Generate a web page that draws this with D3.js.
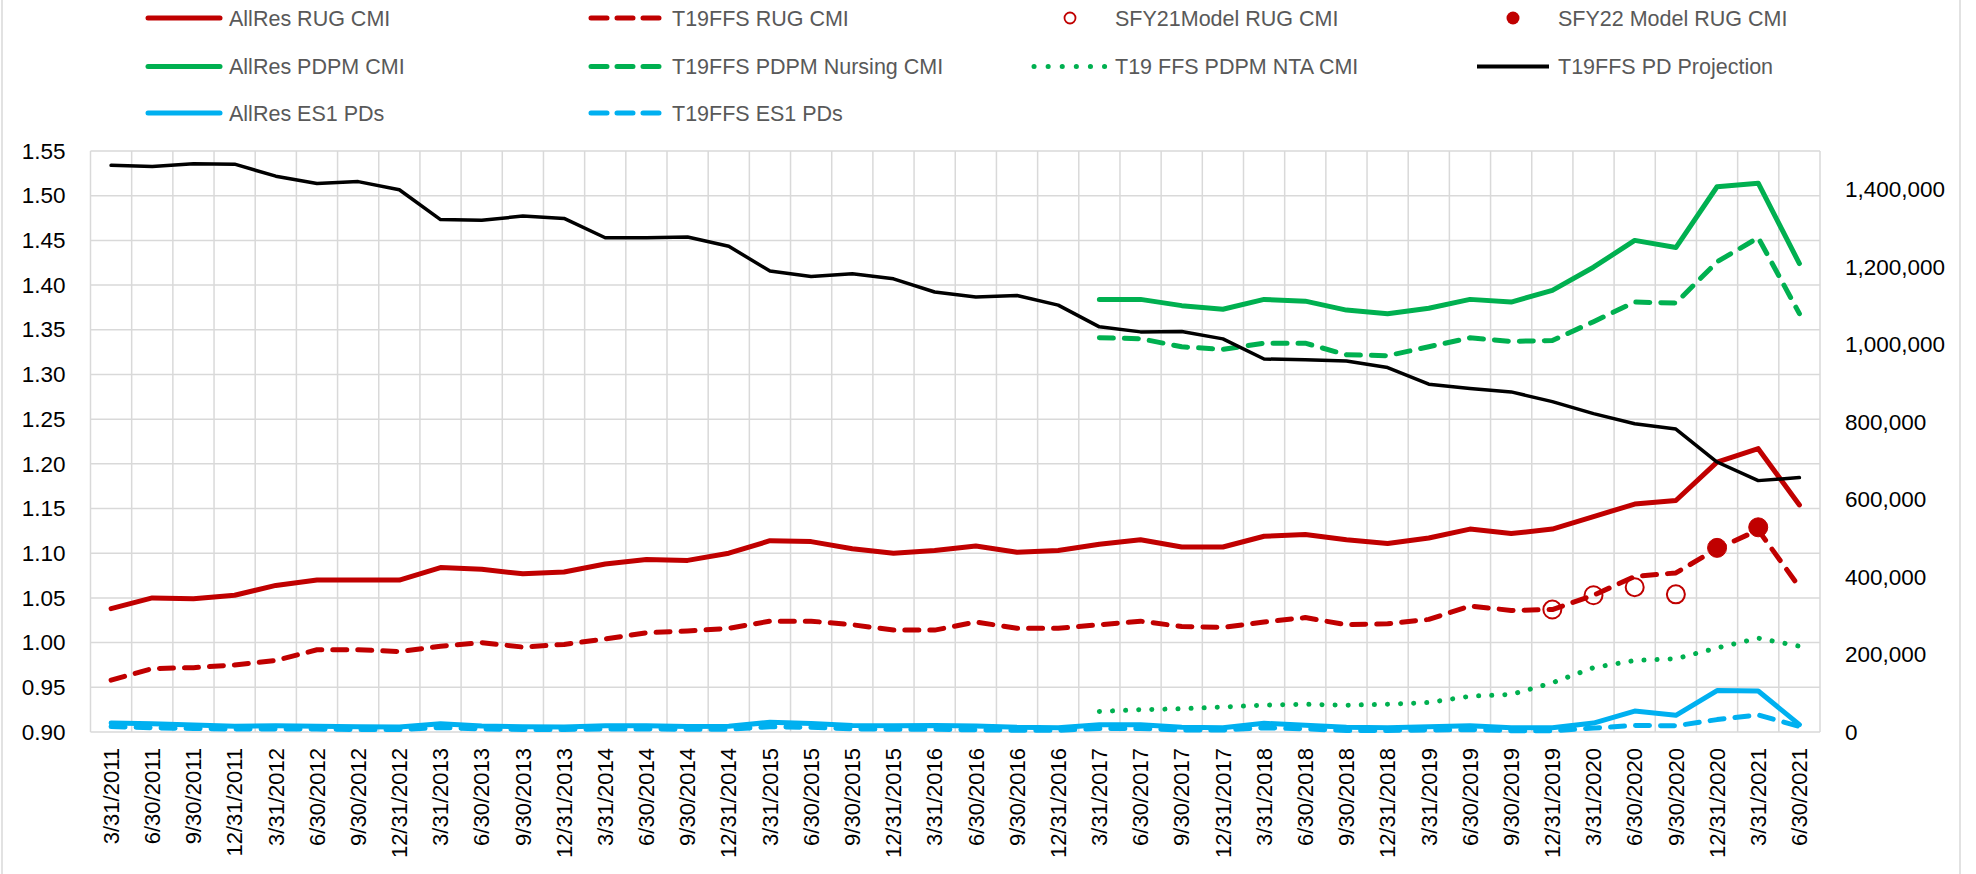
<!DOCTYPE html>
<html>
<head>
<meta charset="utf-8">
<script src="https://cdn.jsdelivr.net/npm/d3@7"></script>
<style>
  html, body { margin: 0; padding: 0; background: #fff; }
  svg { display: block; }
  text { font-family: "Liberation Sans", Arial, sans-serif; }
</style>
</head>
<body>
<svg id="chart" width="1976" height="874"></svg>
<script>
// ---------------- DATA ----------------
const quarters = [
  "3/31/2011","6/30/2011","9/30/2011","12/31/2011",
  "3/31/2012","6/30/2012","9/30/2012","12/31/2012",
  "3/31/2013","6/30/2013","9/30/2013","12/31/2013",
  "3/31/2014","6/30/2014","9/30/2014","12/31/2014",
  "3/31/2015","6/30/2015","9/30/2015","12/31/2015",
  "3/31/2016","6/30/2016","9/30/2016","12/31/2016",
  "3/31/2017","6/30/2017","9/30/2017","12/31/2017",
  "3/31/2018","6/30/2018","9/30/2018","12/31/2018",
  "3/31/2019","6/30/2019","9/30/2019","12/31/2019",
  "3/31/2020","6/30/2020","9/30/2020","12/31/2020",
  "3/31/2021","6/30/2021"
];

// left axis (CMI)
const allResRugCMI = [1.038,1.050,1.049,1.053,1.064,1.070,1.070,1.070,1.084,1.082,1.077,1.079,
  1.088,1.093,1.092,1.100,1.114,1.113,1.105,1.100,1.103,1.108,1.101,1.103,
  1.110,1.115,1.107,1.107,1.119,1.121,1.115,1.111,1.117,1.127,1.122,1.127,
  1.141,1.155,1.159,1.202,1.217,1.154];
const t19RugCMI = [0.958,0.971,0.972,0.975,0.980,0.992,0.992,0.990,0.996,1.000,0.995,0.998,
  1.004,1.011,1.013,1.016,1.024,1.024,1.020,1.014,1.014,1.023,1.016,1.016,
  1.020,1.024,1.018,1.017,1.023,1.028,1.020,1.021,1.026,1.041,1.036,1.037,
  1.053,1.074,1.078,1.105,1.126,1.062];
const sfy21Quarters = ["12/31/2019","3/31/2020","6/30/2020","9/30/2020"];
const sfy21ModelRugCMI = [1.037,1.053,1.062,1.054];
const sfy22Quarters = ["12/31/2020","3/31/2021"];
const sfy22ModelRugCMI = [1.106,1.129];

const pdpmQuarters = quarters.slice(quarters.indexOf("3/31/2017"));
const allResPdpmCMI = [1.384,1.384,1.377,1.373,1.384,1.382,1.372,1.368,1.374,1.384,1.381,1.394,
  1.420,1.450,1.442,1.510,1.514,1.424];
const t19PdpmNursingCMI = [1.341,1.340,1.331,1.328,1.335,1.335,1.322,1.321,1.331,1.341,1.337,1.338,
  1.359,1.381,1.380,1.426,1.453,1.368];
const t19PdpmNtaCMI = [0.923,0.925,0.926,0.928,0.930,0.931,0.930,0.931,0.933,0.940,0.942,0.955,
  0.972,0.980,0.982,0.994,1.005,0.996];

// right axis (patient days)
const t19PdProjection = [1463000,1460000,1467000,1466000,1435000,1416000,1421000,1400000,
  1323000,1321000,1332000,1326000,1276000,1276000,1278000,1254000,1190000,1176000,
  1183000,1170000,1136000,1123000,1127000,1102000,1046000,1033000,1034000,1015000,
  963000,961000,958000,941000,898000,887000,878000,853000,822000,796000,782000,
  697000,649000,657000];
const allResEs1PDs = [23000,21500,18000,15000,16000,15000,13500,13000,21000,15500,13500,13000,
  16000,16000,14500,15000,25000,22000,17000,16000,17000,15500,12100,11200,
  18900,18900,12100,11200,22500,17300,12100,11200,13800,16300,11200,11200,
  23000,54000,43000,107000,106000,19000];
const t19Es1PDs = [14000,11000,9000,7500,8000,7500,6500,6500,11500,8000,6500,6500,
  8000,8000,7000,7000,13500,12000,8000,7000,7000,5500,4500,4500,
  9000,9000,5000,5000,11000,8000,4000,4000,5000,6000,3500,3500,
  10000,17000,16000,32000,44000,14000];

const leftTicks = [0.90,0.95,1.00,1.05,1.10,1.15,1.20,1.25,1.30,1.35,1.40,1.45,1.50,1.55];
const rightTicks = [0,200000,400000,600000,800000,1000000,1200000,1400000];

// ---------------- STYLES ----------------
const RED = "#C00000", GREEN = "#00B050", BLUE = "#00B0F0", BLACK = "#000000";
const DASH = "14 11", DOT = "0.1 13";

const svg = d3.select("#chart");
const W = 1976, H = 874;
const plot = {left: 90.5, right: 1820, top: 151, bottom: 732};

// chart area side borders
svg.append("line").attr("x1", 2).attr("x2", 2).attr("y1", 0).attr("y2", H)
  .attr("stroke", "#d9d9d9").attr("stroke-width", 1.5);
svg.append("line").attr("x1", 1960).attr("x2", 1960).attr("y1", 0).attr("y2", H)
  .attr("stroke", "#d9d9d9").attr("stroke-width", 1.5);

const x = d3.scaleBand().domain(quarters).range([plot.left, plot.right]).padding(0);
const yL = d3.scaleLinear().domain([0.90, 1.55]).range([plot.bottom, plot.top]);
const yR = d3.scaleLinear().domain([0, 1500000]).range([plot.bottom, plot.top]);
const cx = q => x(q) + x.bandwidth() / 2;

// grid
const grid = svg.append("g");
grid.selectAll("line.h").data(leftTicks).join("line")
  .attr("x1", plot.left).attr("x2", plot.right)
  .attr("y1", d => yL(d)).attr("y2", d => yL(d))
  .attr("stroke", "#d9d9d9").attr("stroke-width", 1.5);
const bounds = quarters.map(q => x(q)).concat([plot.right]);
grid.selectAll("line.v").data(bounds).join("line")
  .attr("x1", d => d).attr("x2", d => d)
  .attr("y1", plot.top).attr("y2", plot.bottom)
  .attr("stroke", "#d9d9d9").attr("stroke-width", 1.5);

// axes
const axL = svg.append("g").attr("transform", `translate(${plot.left},0)`)
  .call(d3.axisLeft(yL).tickValues(leftTicks).tickFormat(d3.format(".2f")).tickSize(0).tickPadding(25));
const axR = svg.append("g").attr("transform", `translate(${plot.right},0)`)
  .call(d3.axisRight(yR).tickValues(rightTicks).tickFormat(d3.format(",")).tickSize(0).tickPadding(25));
const axB = svg.append("g").attr("transform", `translate(0,${plot.bottom})`)
  .call(d3.axisBottom(x).tickSize(0));
[axL, axR, axB].forEach(a => {
  a.select(".domain").remove();
  a.selectAll("text").attr("font-size", 22.5).attr("fill", "#000")
    .attr("font-family", "'Liberation Sans', Arial, sans-serif");
});
axB.selectAll("text")
  .attr("font-size", 22)
  .attr("transform", "rotate(-90)")
  .attr("text-anchor", "end")
  .attr("x", -16).attr("y", 0).attr("dy", "0.35em");

// series
function drawLine(cats, vals, scale, color, width, dash) {
  const line = d3.line().x((d, i) => cx(cats[i])).y(d => scale(d));
  svg.append("path").datum(vals)
    .attr("d", line)
    .attr("fill", "none")
    .attr("stroke", color)
    .attr("stroke-width", width)
    .attr("stroke-linejoin", "round")
    .attr("stroke-linecap", "round")
    .attr("stroke-dasharray", dash || null);
}

drawLine(quarters, allResRugCMI, yL, RED, 5);
drawLine(quarters, t19RugCMI, yL, RED, 5, DASH);
svg.append("g").selectAll("circle").data(sfy21ModelRugCMI).join("circle")
  .attr("cx", (d, i) => cx(sfy21Quarters[i])).attr("cy", d => yL(d)).attr("r", 9)
  .attr("fill", "none").attr("stroke", RED).attr("stroke-width", 2);
svg.append("g").selectAll("circle").data(sfy22ModelRugCMI).join("circle")
  .attr("cx", (d, i) => cx(sfy22Quarters[i])).attr("cy", d => yL(d)).attr("r", 9.5)
  .attr("fill", RED).attr("stroke", RED).attr("stroke-width", 1);
drawLine(pdpmQuarters, allResPdpmCMI, yL, GREEN, 5);
drawLine(pdpmQuarters, t19PdpmNursingCMI, yL, GREEN, 5, DASH);
drawLine(pdpmQuarters, t19PdpmNtaCMI, yL, GREEN, 5, DOT);
drawLine(quarters, t19PdProjection, yR, BLACK, 3.5);
drawLine(quarters, allResEs1PDs, yR, BLUE, 5);
drawLine(quarters, t19Es1PDs, yR, BLUE, 5, DASH);

// legend
const legendNames = [
  "AllRes RUG CMI", "T19FFS RUG CMI", "SFY21Model RUG CMI", "SFY22 Model RUG CMI",
  "AllRes PDPM CMI", "T19FFS PDPM Nursing CMI", "T19 FFS PDPM NTA CMI", "T19FFS PD Projection",
  "AllRes ES1 PDs", "T19FFS ES1 PDs"
];
const legendStyles = [
  {c: RED, t: "line"}, {c: RED, t: "line", d: DASH}, {c: RED, t: "open"}, {c: RED, t: "dot"},
  {c: GREEN, t: "line"}, {c: GREEN, t: "line", d: DASH}, {c: GREEN, t: "line", d: DOT}, {c: BLACK, t: "line", w: 4},
  {c: BLUE, t: "line"}, {c: BLUE, t: "line", d: DASH}
];
const legColX = [146, 589, 1032, 1475];
const legRowY = [18, 66.5, 113];
const lg = svg.append("g");
legendNames.forEach((name, i) => {
  const col = i % 4, row = Math.floor(i / 4);
  const x0 = legColX[col], y0 = legRowY[row];
  const s = legendStyles[i];
  const g = lg.append("g");
  if (s.t === "line") {
    g.append("line").attr("x1", x0 + 2).attr("x2", x0 + 74).attr("y1", y0).attr("y2", y0)
      .attr("stroke", s.c).attr("stroke-width", s.w || 5)
      .attr("stroke-linecap", s.w ? "butt" : "round")
      .attr("stroke-dasharray", s.d ? (s.d === DOT ? "0.1 14" : "16 10") : null);
  } else if (s.t === "open") {
    g.append("circle").attr("cx", x0 + 38).attr("cy", y0).attr("r", 5.5)
      .attr("fill", "none").attr("stroke", s.c).attr("stroke-width", 1.8);
  } else {
    g.append("circle").attr("cx", x0 + 38).attr("cy", y0).attr("r", 6.5).attr("fill", s.c);
  }
  g.append("text").attr("x", x0 + 83).attr("y", y0).attr("dy", "0.35em")
    .attr("font-size", 21.5).attr("fill", "#595959").text(name);
});
</script>
</body>
</html>
